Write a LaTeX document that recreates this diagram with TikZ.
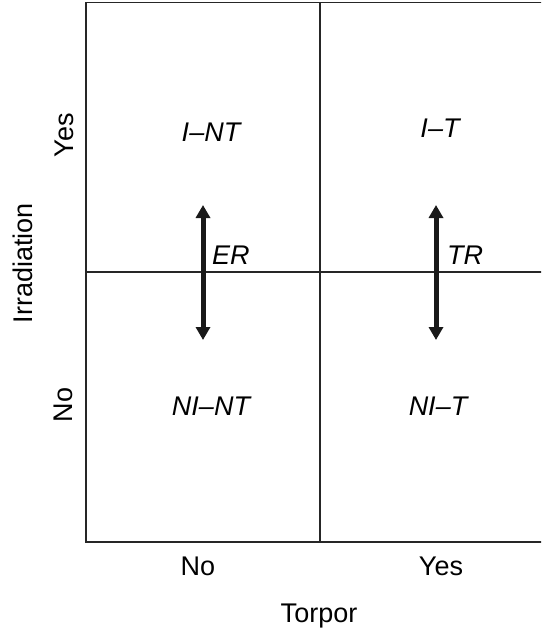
\documentclass[tikz,border=0pt]{standalone}
\usepackage{fontspec}
\setmainfont{Liberation Sans}
\usetikzlibrary{arrows.meta}
\begin{document}
\begin{tikzpicture}[x=1pt,y=-1pt,
  grid/.style={line width=1.3pt,black!85},
  lab/.style={font=\fontsize{27}{32}\selectfont,inner sep=0pt,anchor=base},
  state/.style={lab,font=\fontsize{27}{32}\selectfont\itshape},
  trans/.style={line width=5pt,black!90,{Triangle[width=14pt,length=13pt]}-{Triangle[width=14pt,length=13pt]}}]
\useasboundingbox (0,0) rectangle (541,632);
\begin{scope}
\clip (0,0) rectangle (541,632);
\draw[grid] (86,2.5) rectangle (554,542);
\draw[grid] (320,2.5) -- (320,542);
\draw[grid] (86,272) -- (554,272);
\end{scope}
\node[state] (int) at (211,141) {I–NT};
\node[state] (it) at (440,137) {I–T};
\node[state] (nint) at (211,415) {NI–NT};
\node[state] (nit) at (438,415) {NI–T};
\node[state,anchor=base west] (er) at (212,264) {ER};
\node[state,anchor=base west] (tr) at (447,264) {TR};
\coordinate (erTop) at (203,205);
\coordinate (erBot) at (203,340);
\coordinate (trTop) at (436,205);
\coordinate (trBot) at (436,340);
\draw[trans] (erTop) -- (erBot);
\draw[trans] (trTop) -- (trBot);
\node[lab] (xno) at (198,575) {No};
\node[lab] (xyes) at (441,575) {Yes};
\node[lab] (xt) at (319,622) {Torpor};
\node[lab,rotate=90] (yyes) at (73,135) {Yes};
\node[lab,rotate=90] (yno) at (72,405) {No};
\node[lab,rotate=90] (yt) at (32,263) {Irradiation};
\end{tikzpicture}
\end{document}
